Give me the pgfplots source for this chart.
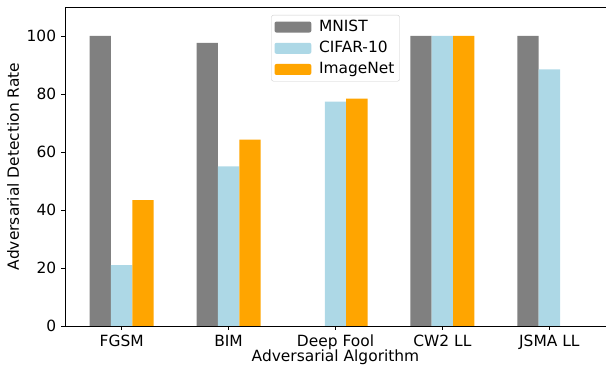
\documentclass[border=0pt]{standalone}
\usepackage{pgfplots}
\pgfplotsset{compat=1.18}
\usepackage{fontspec}
\setmainfont{DejaVu Sans}
\definecolor{mgray}{HTML}{808080}
\definecolor{lblue}{HTML}{ADD8E6}
\definecolor{morange}{HTML}{FFA500}
\newcommand{\bigf}{\fontsize{15.5}{18}\selectfont}
\begin{document}
\bigf
\begin{tikzpicture}[font=\bigf]
\begin{axis}[
  scale only axis, width=541bp, height=319bp,
  xmin=-0.53, xmax=4.53, ymin=0, ymax=110,
  xtick={0,1,2,3,4},
  xticklabels={FGSM,BIM,Deep Fool,CW2 LL,JSMA LL},
  ytick={0,20,40,60,80,100},
  xtick pos=bottom, ytick pos=left,
  tick align=outside, major tick length=3.5bp,
  tick style={black, line width=0.6pt},
  axis line style={black, line width=0.6pt},
  /pgf/number format/assume math mode=true,
  tick label style={font=\bigf},
  every axis label/.append style={font=\bigf},
  xlabel={Adversarial Algorithm},
  ylabel={Adversarial Detection Rate},
  xlabel style={yshift=11bp},
  ylabel style={yshift=-3bp},
  ybar, bar width=0.2,
  legend style={at={(0.5,0.975)}, anchor=north, draw=black!20, rounded corners=2pt,
    font=\bigf, row sep=3.5bp, inner xsep=3pt, inner ysep=3pt},
  legend image code/.code={\fill[#1] (0cm,-0.194cm) rectangle (1.3cm,0.194cm); \path (1.5cm,0);},
  legend cell align=left,
]
\addplot[fill=mgray, draw=none, bar shift=-0.2] coordinates {(0,100) (1,97.6) (3,100) (4,100)};
\addplot[fill=lblue, draw=none, bar shift=0] coordinates {(0,21.0) (1,55.0) (2,77.4) (3,100) (4,88.5)};
\addplot[fill=morange, draw=none, bar shift=0.2] coordinates {(0,43.4) (1,64.3) (2,78.4) (3,100)};
\legend{MNIST,CIFAR-10,ImageNet}
\end{axis}
\pgfresetboundingbox
\path ([shift={(-65bp,-41bp)}]current axis.south west) rectangle ([shift={(0bp,7bp)}]current axis.north east);
\end{tikzpicture}
\end{document}
